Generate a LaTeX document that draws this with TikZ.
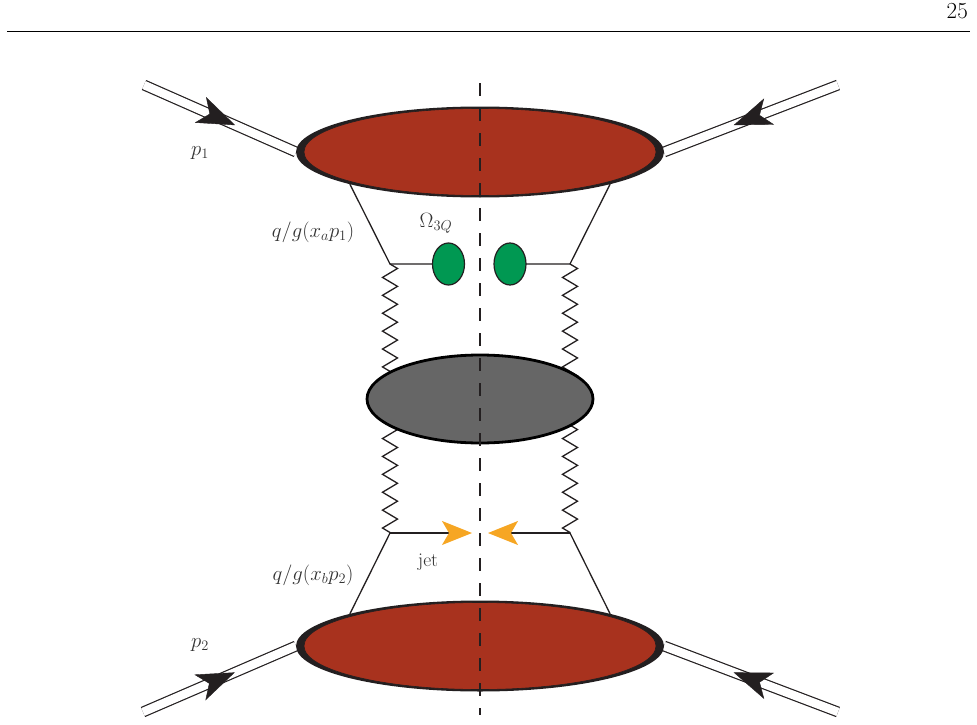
\documentclass[tikz,border=0pt]{standalone}
\usepackage{amssymb}
\usepackage{tikz}
\usepackage{xcolor}
\usetikzlibrary{
    arrows.meta,
    shapes.geometric,
    decorations.pathmorphing,
    decorations.markings,
    calc,
    positioning
}
\pgfdeclarelayer{back}
\pgfsetlayers{back,main}
\definecolor{hadred}{RGB}{168,50,30}
\definecolor{ringdark}{RGB}{35,31,32}
\definecolor{blobgray}{RGB}{102,102,102}
\definecolor{ballgreen}{RGB}{0,152,82}
\definecolor{jetorange}{RGB}{246,166,35}

\begin{document}
\begin{tikzpicture}[x=1pt,y=-1pt,
    blob/.style={ellipse,inner sep=0pt,outer sep=0pt},
    thin line/.style={draw=ringdark,line width=1.3pt},
    lbl/.style={text=black!80,font=\fontsize{19.5}{23}\selectfont,inner sep=0pt},
    gluon/.style={thin line,decorate,decoration={zigzag,segment length=17.9pt,amplitude=7.5pt}},
    proton/.style={double,double distance=8.5pt,line width=1.2pt,draw=ringdark},
    ptip/.style={decoration={markings,mark=at position #1 with {\arrow{Stealth[length=38pt,width=28pt,inset=10pt]}}},postaction={decorate}},
    jetline/.style={thin line,-{Stealth[length=30pt,width=24pt,inset=7pt,color=jetorange]}},
    cut/.style={dash pattern=on 13pt off 12pt,line width=1.2pt,draw=ringdark}
]
    \useasboundingbox (0,0) rectangle (977,725);
    % page head
    \node[anchor=base east,inner sep=0pt,font=\fontsize{23}{28}\selectfont] (page) at (968,19) {25};
    \draw[line width=0.8pt] (7,31) -- (970,31);

    % blobs
    \node[blob,fill=ringdark,minimum width=368pt,minimum height=91pt] (top) at (480,152) {};
    \node[blob,fill=hadred,draw=ringdark,line width=0.6pt,minimum width=352pt,minimum height=87pt] at (top) {};
    \node[blob,fill=ringdark,minimum width=368pt,minimum height=91pt] (bot) at (480,646) {};
    \node[blob,fill=hadred,draw=ringdark,line width=0.6pt,minimum width=352pt,minimum height=87pt] at (bot) {};
    \node[blob,fill=blobgray,draw=black,line width=2.8pt,minimum width=226pt,minimum height=88pt] (hard) at (480,399) {};
    \node[blob,fill=ballgreen,draw=ringdark,line width=1.2pt,minimum width=32pt,minimum height=42pt] (gl) at (448.5,264) {};
    \node[blob,fill=ballgreen,draw=ringdark,line width=1.2pt,minimum width=32pt,minimum height=42pt] (gr) at (510,264) {};

    \coordinate (qa) at (390,264);
    \coordinate (qc) at (570,264);
    \coordinate (qb) at (390,533);
    \coordinate (qd) at (570,533);
    \coordinate (jl) at (472,533);
    \coordinate (jr) at (488,533);
    \coordinate (inA) at (144,85);
    \coordinate (inB) at (838,85);
    \coordinate (inC) at (143,712);
    \coordinate (inD) at (838,712);
    \coordinate (cuttop) at (480,83);
    \coordinate (cutbot) at (480,715);

    \begin{pgfonlayer}{back}
        \draw[proton] (inA) -- (top.west);
        \draw[proton] (inB) -- (top.east);
        \draw[proton] (inC) -- (bot.west);
        \draw[proton] (inD) -- (bot.east);
        \draw[gluon] (qa) -- (qb);
        \draw[gluon] (qc) -- (qd);
    \end{pgfonlayer}
    \path[ptip=0.6,ringdark] (inA) -- (top.west);
    \path[ptip=0.6,ringdark] (inB) -- (top.east);
    \path[ptip=0.6,ringdark] (inC) -- (bot.west);
    \path[ptip=0.6,ringdark] (inD) -- (bot.east);

    \draw[thin line] (top.south west) -- (qa) -- (gl.west);
    \draw[thin line] (gr.east) -- (qc) -- (top.south east);
    \draw[thin line] (bot.north west) -- (qb);
    \draw[thin line] (bot.north east) -- (qd);
    \draw[jetline] (qb) -- (jl);
    \draw[jetline] (qd) -- (jr);

    \draw[cut] (cuttop) -- (cutbot);

    % labels
    \node[lbl] (omega) at (436,223) {$\Omega_{3Q}$};
    \node[lbl] (xa) at (313,232) {$q/g(x_a p_1)$};
    \node[lbl] (jet) at (428,562) {jet};
    \node[lbl] (xb) at (313,575) {$q/g(x_b p_2)$};
    \node[lbl] (p1) at (200,153) {$p_1$};
    \node[lbl] (p2) at (200,645) {$p_2$};
\end{tikzpicture}
\end{document}
